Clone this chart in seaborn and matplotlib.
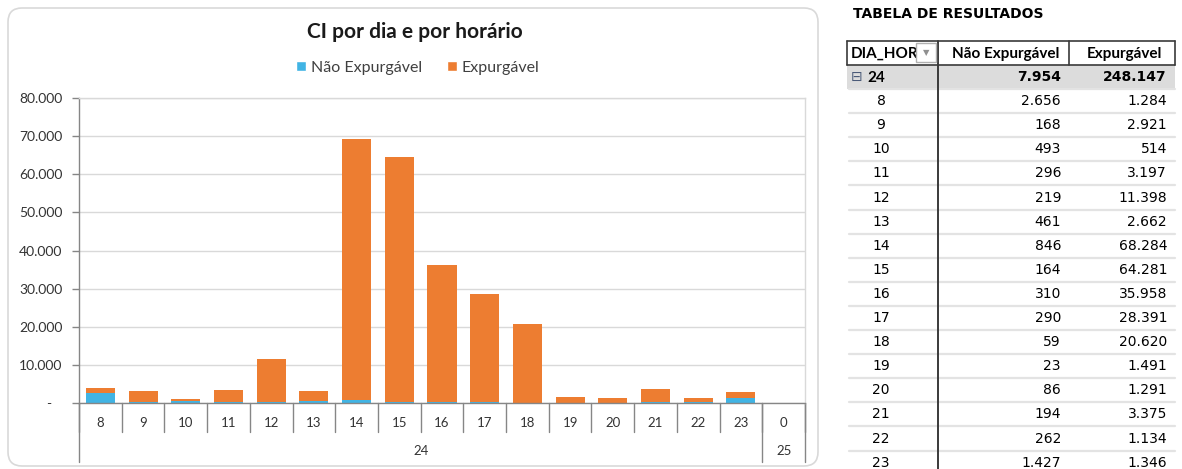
import numpy as np
import pandas as pd
import matplotlib
matplotlib.use("Agg")
import matplotlib.pyplot as plt
import seaborn as sns
from matplotlib.patches import FancyBboxPatch, Rectangle, Patch
from matplotlib.transforms import Affine2D, blended_transform_factory
from matplotlib.ticker import FuncFormatter

# ---------------- data ----------------
dias = ["24"] * 16 + ["25"]
horas = ["8", "9", "10", "11", "12", "13", "14", "15", "16", "17", "18",
         "19", "20", "21", "22", "23", "0"]
nao_expurgavel = [2656, 168, 493, 296, 219, 461, 846, 164, 310, 290, 59,
                  23, 86, 194, 262, 1427, 0]
expurgavel = [1284, 2921, 514, 3197, 11398, 2662, 68284, 64281, 35958, 28391,
              20620, 1491, 1291, 3375, 1134, 1346, 0]
y_ticks = [0, 10000, 20000, 30000, 40000, 50000, 60000, 70000, 80000]
serie_nomes = ["Não Expurgável", "Expurgável"]
titulo = "CI por dia e por horário"
tabela_titulo = "TABELA DE RESULTADOS"
tabela_cab = ["DIA_HOR", "Não Expurgável", "Expurgável"]
tabela_dia = "24"
n_linhas_tabela = 16   # rows of day 24 visible in the table

# ---------------- style ----------------
AZUL = "#41B4E4"
LARANJA = "#ED7D31"
W, H = 1182, 469

sns.set_style("white")
plt.rcParams["font.family"] = ["Lato", "DejaVu Sans"]

def fmt(v):
    return f"{v:,}".replace(",", ".")

fig = plt.figure(figsize=(W / 100, H / 100), dpi=100)
PX = Affine2D().scale(1 / W, -1 / H).translate(0, 1) + fig.transFigure

# chart rounded frame
frame = FancyBboxPatch((8, 8), 810, 458, boxstyle="round,pad=0,rounding_size=14",
                       transform=PX, facecolor="white", edgecolor="#D9D9D9", lw=1.2,
                       zorder=-5)
fig.patches.append(frame)

# ---------------- chart ----------------
ax = fig.add_axes([79 / W, 1 - 403 / H, (805 - 79) / W, (403 - 98) / H])
ax.set_facecolor("none")
slots = [f"{d}-{h}" for d, h in zip(dias, horas)]
df = pd.DataFrame({
    "slot": slots,
    "nao": nao_expurgavel,
    "total": [a + b for a, b in zip(nao_expurgavel, expurgavel)],
})
sns.barplot(data=df, x="slot", y="total", order=slots, color=LARANJA,
            saturation=1, width=0.68, errorbar=None, linewidth=0, ax=ax)
sns.barplot(data=df, x="slot", y="nao", order=slots, color=AZUL,
            saturation=1, width=0.68, errorbar=None, linewidth=0, ax=ax)

ax.set_xlim(-0.5, len(slots) - 0.5)
ax.set_ylim(0, 80000)
ax.set_yticks(y_ticks)
ax.yaxis.set_major_formatter(FuncFormatter(lambda v, p: "-   " if v == 0 else fmt(int(v))))
ax.yaxis.grid(True, color="#D9D9D9", lw=1)
ax.set_axisbelow(True)
ax.set_xlabel("")
ax.set_ylabel("")
ax.set_xticks([])
ax.tick_params(axis="y", length=5, width=1, color="#868686", pad=7,
               labelsize=10, labelcolor="#333333", left=True)
for s in ["top", "right"]:
    ax.spines[s].set_color("#D9D9D9")
for s in ["left", "bottom"]:
    ax.spines[s].set_color("#868686")
for s in ax.spines.values():
    s.set_linewidth(1)

bt = blended_transform_factory(ax.transData, ax.transAxes)
ah = 403 - 98
for i, h in enumerate(horas):
    ax.text(i, -(423 - 403) / ah, h, transform=bt, ha="center", va="center",
            fontsize=9.5, color="#333333")
for i in range(len(horas) + 1):
    ax.plot([i - 0.5, i - 0.5], [0, -(432 - 403) / ah], transform=bt,
            color="#868686", lw=1, clip_on=False)
# day groups
bounds = [0]
for i in range(1, len(dias)):
    if dias[i] != dias[i - 1]:
        bounds.append(i)
bounds.append(len(dias))
for k in range(len(bounds) - 1):
    a, b = bounds[k], bounds[k + 1]
    ax.text((a + b - 1) / 2, -(451 - 403) / ah, dias[a], transform=bt,
            ha="center", va="center", fontsize=9.5, color="#333333")
for b in bounds:
    ax.plot([b - 0.5, b - 0.5], [0, -(462 - 403) / ah], transform=bt,
            color="#868686", lw=1, clip_on=False)

fig.text(415, 32, titulo, transform=PX, ha="center", va="center",
         fontsize=15, fontweight="bold", color="#1a1a1a")
handles = [Patch(facecolor=AZUL, label=serie_nomes[0]),
           Patch(facecolor=LARANJA, label=serie_nomes[1])]
fig.legend(handles=handles, loc="center", bbox_to_anchor=(418 / W, 1 - 68 / H),
           ncol=2, frameon=False, fontsize=11.5, handlelength=0.6, handleheight=0.6,
           handletextpad=0.3, columnspacing=1.6, labelcolor="#404040")

# ---------------- table ----------------
TAB_FONT = ["DejaVu Sans"]
fig.text(853, 14, tabela_titulo, transform=PX, ha="left", va="center",
         fontsize=10, fontweight="bold", color="#000000", family=TAB_FONT)

L, C1, C2, R = 847, 938, 1069, 1175
top, hb = 41, 65
pitch = 24.1

# total row background
fig.patches.append(Rectangle((L, hb), R - L, pitch, transform=PX,
                             facecolor="#DCDCDC", edgecolor="none", zorder=-1))
# row separators
n_rows = n_linhas_tabela + 1
for k in range(1, n_rows + 1):
    y = hb + pitch * k
    fig.lines.append(plt.Line2D([L + 2, R], [y, y], transform=PX,
                                color="#E3E3E3", lw=1.6))
# header box
for xs, ys in [([L, R], [top, top]), ([L, R], [hb, hb]), ([L, L], [top, hb]),
               ([C2, C2], [top, hb]), ([R, R], [top, hb])]:
    fig.lines.append(plt.Line2D(xs, ys, transform=PX, color="#3a3a3a", lw=1.2))
fig.lines.append(plt.Line2D([C1, C1], [top, H], transform=PX, color="#3a3a3a", lw=1.4))

hy = (top + hb) / 2
fig.text(851, hy + 1, tabela_cab[0], transform=PX, ha="left", va="center",
         fontsize=11, fontweight="bold", color="#000000", zorder=1)
# filter button
fig.patches.append(Rectangle((916, 43.5), 20, 19, transform=PX, facecolor="white",
                             edgecolor="#B0B0B0", lw=1, zorder=3))
fig.text(926, hy, "▼", transform=PX, ha="center", va="center", fontsize=6,
         color="#909090", family=TAB_FONT, zorder=4)
fig.text((C1 + C2) / 2 + 2, hy + 1, tabela_cab[1], transform=PX, ha="center",
         va="center", fontsize=11, fontweight="bold", color="#000000")
fig.text((C2 + R) / 2 + 2, hy + 1, tabela_cab[2], transform=PX, ha="center",
         va="center", fontsize=11, fontweight="bold", color="#000000")

# total row
ty = hb + pitch / 2
idx = [i for i, d in enumerate(dias) if d == tabela_dia]
tot_nao = sum(nao_expurgavel[i] for i in idx)
tot_exp = sum(expurgavel[i] for i in idx)
fig.text(857, ty, "⊟", transform=PX, ha="center", va="center", fontsize=10,
         color="#4a5a78", family=TAB_FONT)
fig.text(867, ty + 1, tabela_dia, transform=PX, ha="left", va="center", fontsize=11,
         fontweight="bold", color="#000000")
fig.text(1061, ty, fmt(tot_nao), transform=PX, ha="right", va="center",
         fontsize=10, fontweight="bold", color="#000000", family=TAB_FONT)
fig.text(1167, ty, fmt(tot_exp), transform=PX, ha="right", va="center",
         fontsize=10, fontweight="bold", color="#000000", family=TAB_FONT)

for r, i in enumerate(idx[:n_linhas_tabela]):
    y = hb + pitch * (r + 1) + pitch / 2
    fig.text(881, y, horas[i], transform=PX, ha="center", va="center",
             fontsize=10, color="#000000", family=TAB_FONT)
    fig.text(1061, y, fmt(nao_expurgavel[i]), transform=PX, ha="right",
             va="center", fontsize=10, color="#000000", family=TAB_FONT)
    fig.text(1167, y, fmt(expurgavel[i]), transform=PX, ha="right",
             va="center", fontsize=10, color="#000000", family=TAB_FONT)

fig.savefig("out.png", dpi=100, facecolor="white")
